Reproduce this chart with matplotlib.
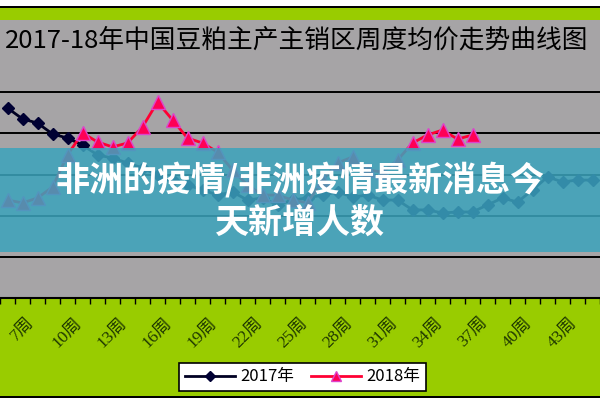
import matplotlib
matplotlib.use("Agg")
import matplotlib.pyplot as plt
from matplotlib.patches import Rectangle
from matplotlib.lines import Line2D

# weekly average price (yuan/ton)
weeks_2017 = list(range(6, 46))
price_2017 = [3723, 3670, 3650, 3597, 3577, 3543, 3495, 3480, 3456, 3432,
              3398, 3373, 3349, 3325, 3300, 3315, 3276, 3286, 3252, 3276,
              3286, 3300, 3315, 3291, 3300, 3276, 3276, 3228, 3228, 3213,
              3218, 3218, 3252, 3286, 3266, 3325, 3388, 3364, 3373, 3373]
weeks_2018 = list(range(6, 38))
price_2018 = [3276, 3262, 3286, 3339, 3495, 3602, 3558, 3534, 3553, 3631,
              3752, 3665, 3577, 3553, 3509, 3422, 3349, 3300, 3300, 3276,
              3262, 3373, 3456, 3485, 3422, 3412, 3470, 3553, 3592, 3616,
              3572, 3592]
tick_weeks = list(range(7, 44, 3))
tick_labels = [f"{w}周" for w in tick_weeks]

title = "2017-18年中国豆粕主产主销区周度均价走势曲线图"
banner = "非洲的疫情/非洲疫情最新消息今\n天新增人数"

GREEN = "#99cc00"
GRAY = "#a6a4a6"

fig = plt.figure(figsize=(6, 4), dpi=100, facecolor=GREEN)

def band(y0, y1, color, z=-1, alpha=1.0):
    # rectangle across the full width, given in pixel rows from the top
    fig.patches.append(Rectangle((0, 1 - y1 / 400), 1, (y1 - y0) / 400,
                                 transform=fig.transFigure, facecolor=color,
                                 edgecolor="none", zorder=z, alpha=alpha))

band(0, 6, "white")
band(6, 7.5, "black")
band(20, 298, GRAY)
band(396, 398, "black")
band(398, 400, "white")

ax = fig.add_axes([0, 1 - 298 / 400, 1, (298 - 51) / 400])
ax.set_facecolor("none")
ax.set_xlim(6.2, 45.4)
ax.set_ylim(2800, 4000)
for s in ["top", "right", "left"]:
    ax.spines[s].set_visible(False)
ax.spines["bottom"].set_color("black")
ax.spines["bottom"].set_linewidth(1.5)
for g in range(3000, 4000, 200):
    ax.axhline(g, color="black", lw=1.4, zorder=1)

ax.plot(weeks_2017, price_2017, color="#000022", lw=2, marker="D",
        markersize=6.5, markerfacecolor="#000033", markeredgecolor="#000033",
        zorder=3, clip_on=False)
ax.plot(weeks_2018, price_2018, color="#ff0033", lw=2, marker="^",
        markersize=9.5, markerfacecolor="#ff0055", markeredgecolor="#dd44cc",
        zorder=4, clip_on=False)

ax.set_yticks([])
ax.set_xticks(tick_weeks)
ax.set_xticklabels(tick_labels, rotation=45, ha="center", va="top",
                   family=["Liberation Serif", "Noto Sans CJK SC"],
                   fontsize=12.5, color="#1f3800")
ax.tick_params(axis="x", which="major", length=0, pad=12)
ax.set_xticks([w + 0.5 for w in range(5, 46)], minor=True)
ax.tick_params(axis="x", which="minor", length=4, width=1, color="black")

fig.text(297 / 600, 1 - 41 / 400, title, ha="center", va="center",
         fontsize=18.5, family=["Noto Sans CJK SC", "DejaVu Sans"],
         color="black")

# legend
handles = [Line2D([], [], color="#000022", lw=2, marker="D", markersize=5,
                  markerfacecolor="#000033", markeredgecolor="#000033"),
           Line2D([], [], color="#ff0033", lw=2, marker="^", markersize=7,
                  markerfacecolor="#ff0055", markeredgecolor="#dd44cc")]
leg = fig.legend(handles, ["2017年", "2018年"], loc="center",
                 bbox_to_anchor=(302.5 / 600, 1 - 377 / 400), ncol=2,
                 frameon=True, fancybox=False, edgecolor="black",
                 framealpha=1, handlelength=3, columnspacing=1.0,
                 handletextpad=0.3, borderpad=0.35,
                 prop={"family": ["Noto Sans CJK SC", "DejaVu Sans"],
                       "size": 12})
leg.get_frame().set_linewidth(1.2)

# translucent banner over the chart
band(148, 252, "#3ca3bc", z=10, alpha=0.86)
fig.text(0.5, 1 - 201 / 400, banner, ha="center", va="center",
         fontsize=24.5, fontweight="bold", color="white", linespacing=1.25,
         family=["Noto Sans CJK SC", "DejaVu Sans"], zorder=11)

fig.savefig("out.png", dpi=100, facecolor=GREEN)
